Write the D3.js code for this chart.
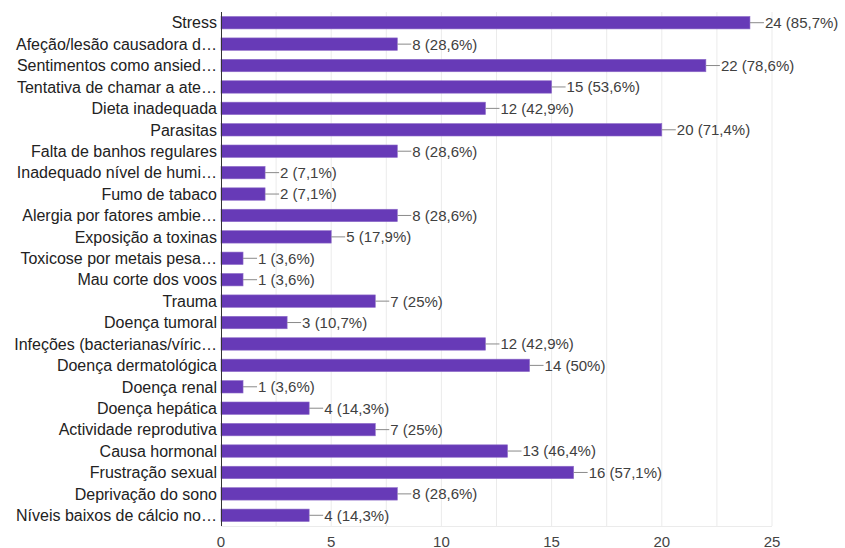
<!DOCTYPE html>
<html>
<head>
<meta charset="utf-8">
<script src="https://cdn.jsdelivr.net/npm/d3@7"></script>
<style>
  html, body { margin: 0; padding: 0; background: #fff; }
  svg { display: block; font-family: "Liberation Sans", Arial, sans-serif; }
</style>
</head>
<body>
<svg id="chart" width="845" height="548"></svg>
<script>
// Response categories (as displayed, truncated where long)
const categories = [
  "Stress",
  "Afeção/lesão causadora d…",
  "Sentimentos como ansied…",
  "Tentativa de chamar a ate…",
  "Dieta inadequada",
  "Parasitas",
  "Falta de banhos regulares",
  "Inadequado nível de humi…",
  "Fumo de tabaco",
  "Alergia por fatores ambie…",
  "Exposição a toxinas",
  "Toxicose por metais pesa…",
  "Mau corte dos voos",
  "Trauma",
  "Doença tumoral",
  "Infeções (bacterianas/víric…",
  "Doença dermatológica",
  "Doença renal",
  "Doença hepática",
  "Actividade reprodutiva",
  "Causa hormonal",
  "Frustração sexual",
  "Deprivação do sono",
  "Níveis baixos de cálcio no…"
];

// Number of answers per category
const counts = [24, 8, 22, 15, 12, 20, 8, 2, 2, 8, 5, 1, 1, 7, 3, 12, 14, 1, 4, 7, 13, 16, 8, 4];

// Share of respondents per category (as printed)
const percents = ["85,7%", "28,6%", "78,6%", "53,6%", "42,9%", "71,4%", "28,6%", "7,1%", "7,1%",
  "28,6%", "17,9%", "3,6%", "3,6%", "25%", "10,7%", "42,9%", "50%", "3,6%", "14,3%", "25%",
  "46,4%", "57,1%", "28,6%", "14,3%"];

// Axis ticks
const xTicks = [0, 5, 10, 15, 20, 25];
const gridValues = [2.5, 5, 7.5, 10, 12.5, 15, 17.5, 20, 22.5, 25];

const data = categories.map((c, i) => ({ cat: c, n: counts[i], pct: percents[i] }));

const svg = d3.select("#chart");
const margin = { top: 12, left: 221, right: 73, bottom: 22 };
const width = 845, height = 548;

const x = d3.scaleLinear().domain([0, 25]).range([margin.left, width - margin.right]);
const y = d3.scaleBand().domain(categories).range([margin.top, height - margin.bottom])
  .paddingInner(0.42).paddingOuter(0.21);

// vertical gridlines
svg.append("g").selectAll("line").data(gridValues).join("line")
  .attr("x1", d => x(d)).attr("x2", d => x(d))
  .attr("y1", margin.top).attr("y2", height - margin.bottom)
  .attr("stroke", "#ebebeb").attr("stroke-width", 1);

// bottom frame line
svg.append("line")
  .attr("x1", margin.left).attr("x2", x(25))
  .attr("y1", height - margin.bottom + 0.5).attr("y2", height - margin.bottom + 0.5)
  .attr("stroke", "#ebebeb");

// bars
svg.append("g").selectAll("rect").data(data).join("rect")
  .attr("x", x(0))
  .attr("y", d => y(d.cat))
  .attr("width", d => x(d.n) - x(0))
  .attr("height", y.bandwidth())
  .attr("fill", "#673ab7")
  .attr("stroke", "#8e6cc9")
  .attr("stroke-width", 0.6);

// connector lines and value labels
const lab = svg.append("g").selectAll("g").data(data).join("g")
  .attr("transform", d => `translate(${x(d.n)},${y(d.cat) + y.bandwidth() / 2})`);
lab.append("line")
  .attr("x1", 0).attr("x2", 14).attr("y1", 0).attr("y2", 0)
  .attr("stroke", "#8a8a8a").attr("stroke-width", 1);
lab.append("text")
  .attr("x", 15).attr("dy", "0.36em")
  .attr("font-size", 15).attr("fill", "#404040")
  .text(d => `${d.n} (${d.pct})`);

// category labels
svg.append("g").selectAll("text").data(data).join("text")
  .attr("x", margin.left - 4)
  .attr("y", d => y(d.cat) + y.bandwidth() / 2)
  .attr("dy", "0.36em")
  .attr("text-anchor", "end")
  .attr("font-size", 16).attr("fill", "#222")
  .text(d => d.cat);

// baseline axis
svg.append("line")
  .attr("x1", margin.left + 0.5).attr("x2", margin.left + 0.5)
  .attr("y1", margin.top).attr("y2", height - margin.bottom)
  .attr("stroke", "#333").attr("stroke-width", 1);

// x tick labels
svg.append("g").selectAll("text").data(xTicks).join("text")
  .attr("x", d => x(d)).attr("y", 547)
  .attr("text-anchor", "middle")
  .attr("font-size", 15).attr("fill", "#444")
  .text(d => d);
</script>
</body>
</html>
